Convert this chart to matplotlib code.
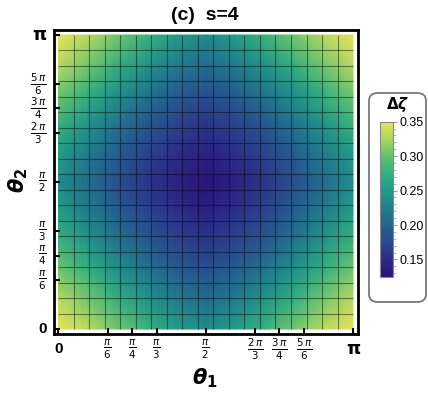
import numpy as np
import matplotlib
matplotlib.use("Agg")
import matplotlib.pyplot as plt
from matplotlib.colors import LinearSegmentedColormap, Normalize
from matplotlib.patches import FancyBboxPatch
from matplotlib.ticker import MultipleLocator

plt.rcParams['font.family'] = ['Liberation Sans', 'DejaVu Sans']
plt.rcParams['mathtext.fontset'] = 'dejavusans'

# Delta zeta read at the nodes theta = k*pi/10 (rows: theta2 from 0 up, cols: theta1 from 0)
dz_r0 = [0.350, 0.332, 0.305, 0.278, 0.254, 0.238, 0.254, 0.278, 0.305, 0.332, 0.350]
dz_r1 = [0.332, 0.306, 0.274, 0.246, 0.223, 0.208, 0.223, 0.246, 0.274, 0.306, 0.332]
dz_r2 = [0.305, 0.274, 0.242, 0.215, 0.194, 0.181, 0.194, 0.215, 0.242, 0.274, 0.305]
dz_r3 = [0.278, 0.246, 0.215, 0.190, 0.171, 0.158, 0.171, 0.190, 0.215, 0.246, 0.278]
dz_r4 = [0.254, 0.223, 0.194, 0.171, 0.152, 0.139, 0.152, 0.171, 0.194, 0.223, 0.254]
dz_r5 = [0.238, 0.208, 0.181, 0.158, 0.139, 0.126, 0.139, 0.158, 0.181, 0.208, 0.238]
dzeta = np.array([dz_r0, dz_r1, dz_r2, dz_r3, dz_r4, dz_r5,
                  dz_r4, dz_r3, dz_r2, dz_r1, dz_r0])
theta_nodes = np.linspace(0, np.pi, 11)

tick_pos = [0, np.pi/6, np.pi/4, np.pi/3, np.pi/2, 2*np.pi/3, 3*np.pi/4, 5*np.pi/6, np.pi]
tick_labels = ["0", r"$\frac{\pi}{6}$", r"$\frac{\pi}{4}$", r"$\frac{\pi}{3}$", r"$\frac{\pi}{2}$",
               r"$\frac{2\,\pi}{3}$", r"$\frac{3\,\pi}{4}$", r"$\frac{5\,\pi}{6}$", "π"]
cbar_ticks = [0.15, 0.20, 0.25, 0.30, 0.35]
vmin, vmax = 0.125, 0.35

cmap = LinearSegmentedColormap.from_list("dz", [
    (0.00, "#2a137a"), (0.10, "#2c2a86"), (0.22, "#2a488e"), (0.35, "#22688e"),
    (0.50, "#1f8c8b"), (0.62, "#26a884"), (0.75, "#50bd72"), (0.88, "#a2d562"),
    (1.00, "#e8e45a")])
norm = Normalize(vmin, vmax)

fig = plt.figure(figsize=(4.28, 3.95), dpi=100)
ax = fig.add_axes([0.125, 0.1544, 0.7114, 0.7696])

T1, T2 = np.meshgrid(theta_nodes, theta_nodes)
pm = ax.pcolormesh(T1, T2, dzeta, cmap=cmap, norm=norm, shading='gouraud')

# mesh lines (18 interior lines each way)
mesh = np.arange(1, 19) * np.pi / 19
ax.vlines(mesh, 0, np.pi, color='black', alpha=0.45, lw=0.8)
ax.hlines(mesh, 0, np.pi, color='black', alpha=0.45, lw=0.8)

pad = 0.053
ax.set_xlim(-pad, np.pi + pad)
ax.set_ylim(-pad, np.pi + pad)
for s in ax.spines.values():
    s.set_linewidth(2)

ax.set_xticks(tick_pos)
ax.set_xticklabels(tick_labels)
ax.set_yticks(tick_pos)
ax.set_yticklabels(tick_labels)
ax.tick_params(direction='in', length=4, width=1.5, labelsize=10.5)
ax.tick_params(axis='x', pad=11)
ax.tick_params(axis='y', pad=5)
for lab in ax.get_xticklabels():
    lab.set_va('center')
for lab in ax.get_yticklabels():
    lab.set_va('center')
for labs in (ax.get_xticklabels(), ax.get_yticklabels()):
    labs[0].set_fontweight('bold')
    labs[0].set_fontsize(11)
    labs[-1].set_fontweight('bold')
    labs[-1].set_fontsize(13)
    labs[-1].set_family('DejaVu Sans')

fig.text(205/428, 1 - 15/395, "(c)  s=4", ha='center', va='center',
         fontsize=14, fontweight='bold')
fig.text(205/428, 1 - 378/395, r"$\mathbfit{\theta}_{\mathbf{1}}$", ha='center', va='center',
         fontsize=15)
fig.text(18/428, 1 - 180/395, r"$\mathbfit{\theta}_{\mathbf{2}}$", ha='center', va='center',
         fontsize=15, rotation=90)

# legend box with the colour bar
box = FancyBboxPatch((369/428, 1 - 302/395), 57/428, 209/395,
                     boxstyle="round,pad=0,rounding_size=0.02",
                     transform=fig.transFigure, facecolor='white',
                     edgecolor='#777777', lw=1.3, zorder=-1)
fig.patches.append(box)
fig.text(398/428, 1 - 105/395, r"$\mathbf{\Delta}\mathbfit{\zeta}$", ha='center', va='center',
         fontsize=11)

cax = fig.add_axes([380/428, 1 - 276.7/395, 12.5/428, 155/395])
cb = fig.colorbar(pm, cax=cax, ticks=cbar_ticks)
cb.ax.set_yticklabels(["0.15", "0.20", "0.25", "0.30", "0.35"])
cb.ax.yaxis.set_minor_locator(MultipleLocator(0.01))
cb.ax.tick_params(which='major', length=3, width=0.8, color='#999999', labelsize=9, pad=2)
cb.ax.tick_params(which='minor', length=2.5, width=0.6, color='#aaaaaa')
cb.outline.set_edgecolor('#888888')
cb.outline.set_linewidth(0.8)

fig.savefig("out.png", dpi=100)
